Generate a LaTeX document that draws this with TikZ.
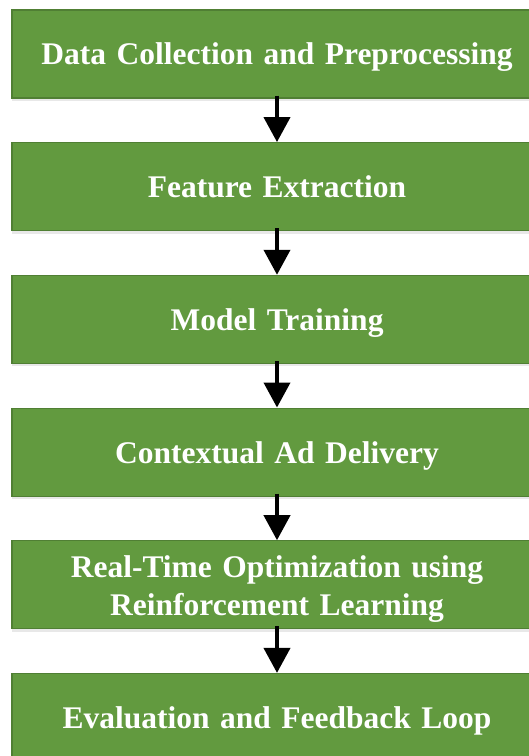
\documentclass[tikz,border=0pt]{standalone}
\usepackage{fontspec}
\setmainfont{Liberation Serif}
\usetikzlibrary{positioning}
\usetikzlibrary{arrows.meta}
\usetikzlibrary{shadows}

\definecolor{stepgreen}{HTML}{629A3F}
\definecolor{stepedge}{HTML}{507F34}

\begin{document}
\begin{tikzpicture}[x=1pt, y=1pt, node distance=43.5pt,
    stagebox/.style={draw=stepedge, line width=1.2pt, fill=stepgreen,
        minimum width=530pt, minimum height=88pt, text width=510pt, align=center,
        text depth=0pt, text=white, font=\bfseries\fontsize{31.5}{38}\selectfont,
        drop shadow={opacity=0.18, shadow xshift=0pt, shadow yshift=-3pt}},
    flowarrow/.style={line width=4pt, -{Triangle[width=26pt, length=25pt]},
        shorten <=-3pt}]

    \useasboundingbox (0, 0) rectangle (529, -756);

    \node[stagebox] (collect) at (277, -54) {Data Collection and Preprocessing};
    \node[stagebox, below=of collect] (features) {Feature Extraction};
    \node[stagebox, below=of features] (training) {Model Training};
    \node[stagebox, below=of training] (delivery) {Contextual Ad Delivery};
    % two lines: depth covers the second line
    \node[stagebox, text depth=37pt, below=of delivery] (optimize) {Real-Time Optimization using\\Reinforcement Learning};
    \node[stagebox, below=of optimize] (evaluate) {Evaluation and Feedback Loop};

    \draw[flowarrow] (collect.south) -- (features.north);
    \draw[flowarrow] (features.south) -- (training.north);
    \draw[flowarrow] (training.south) -- (delivery.north);
    \draw[flowarrow] (delivery.south) -- (optimize.north);
    \draw[flowarrow] (optimize.south) -- (evaluate.north);

\end{tikzpicture}
\end{document}
